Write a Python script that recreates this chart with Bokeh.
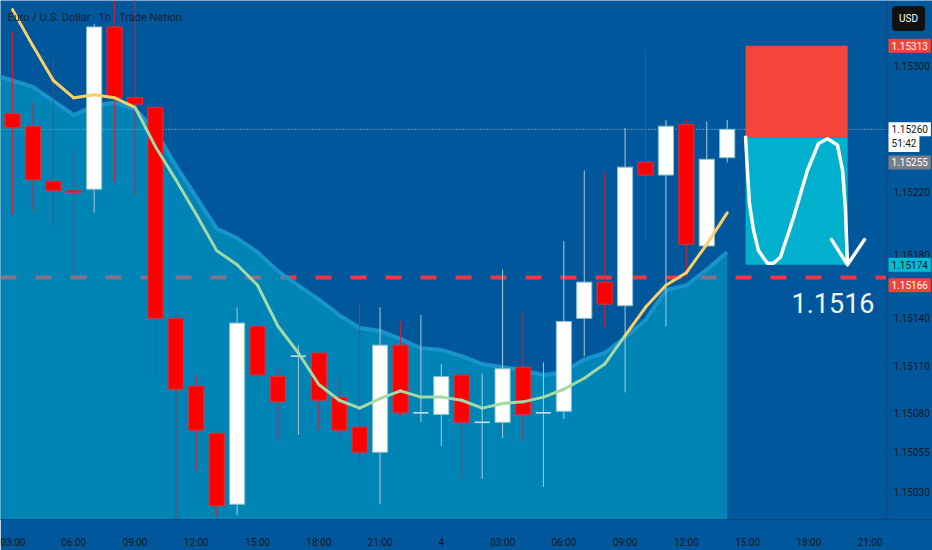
from bokeh.plotting import figure
from bokeh.models import Range1d, FixedTicker, PrintfTickFormatter, Label, ColumnDataSource, LinearAxis
from bokeh.embed import file_html
from bokeh.resources import INLINE

# ---------------- data ----------------
hours = list(range(3, 39))  # hourly candles, day 3 03:00 .. day 4 14:00
opens = [1.15270, 1.15262, 1.15227, 1.15221, 1.15222, 1.15325, 1.15280, 1.15274, 1.15140, 1.15097,
         1.15067, 1.15022, 1.15135, 1.15103, 1.15116, 1.15118, 1.15090, 1.15071, 1.15055, 1.15123,
         1.15080, 1.15079, 1.15104, 1.15074, 1.15074, 1.15109, 1.15080, 1.15081, 1.15140, 1.15163,
         1.15148, 1.15239, 1.15231, 1.15263, 1.15186, 1.15242]
closes = [1.15261, 1.15228, 1.15221, 1.15220, 1.15325, 1.15280, 1.15276, 1.15140, 1.15095, 1.15069,
          1.15021, 1.15137, 1.15104, 1.15087, 1.15116, 1.15088, 1.15069, 1.15055, 1.15123, 1.15080,
          1.15080, 1.15103, 1.15074, 1.15074, 1.15108, 1.15079, 1.15080, 1.15138, 1.15163, 1.15149,
          1.15236, 1.15231, 1.15262, 1.15187, 1.15241, 1.15260]
highs = [1.15322, 1.15277, 1.15304, 1.15247, 1.15327, 1.15350, 1.15350, 1.15275, 1.15143, 1.15104,
         1.15068, 1.15147, 1.15147, 1.15109, 1.15123, 1.15118, 1.15104, 1.15150, 1.15147, 1.15138,
         1.15142, 1.15111, 1.15104, 1.15105, 1.15171, 1.15144, 1.15112, 1.15189, 1.15234, 1.15233,
         1.15261, 1.15310, 1.15266, 1.15266, 1.15265, 1.15266]
lows = [1.15206, 1.15209, 1.15199, 1.15168, 1.15207, 1.15227, 1.15218, 1.15103, 1.15010, 1.15043,
        1.15014, 1.15015, 1.15095, 1.15062, 1.15066, 1.15069, 1.15064, 1.15048, 1.15022, 1.15078,
        1.15074, 1.15059, 1.15038, 1.15038, 1.15064, 1.15062, 1.15033, 1.15076, 1.15116, 1.15134,
        1.15093, 1.15189, 1.15135, 1.15166, 1.15186, 1.15239]
fast_ema = [1.15336, 1.15313, 1.15291, 1.15280, 1.15282, 1.15280, 1.15274, 1.15249, 1.15228, 1.15206,
            1.15183, 1.15174, 1.15161, 1.15135, 1.15118, 1.15098, 1.15088, 1.15083, 1.15089, 1.15094,
            1.15090, 1.15090, 1.15088, 1.15083, 1.15086, 1.15087, 1.15090, 1.15095, 1.15102, 1.15111,
            1.15129, 1.15147, 1.15161, 1.15169, 1.15187, 1.15207]
slow_hours = [2] + hours
slow_ema = [1.15295, 1.15291, 1.15287, 1.15278, 1.15269, 1.15275, 1.15277, 1.15273, 1.15259, 1.15237,
            1.15217, 1.15197, 1.15191, 1.15182, 1.15170, 1.15161, 1.15152, 1.15142, 1.15134, 1.15132,
            1.15127, 1.15121, 1.15120, 1.15116, 1.15111, 1.15109, 1.15107, 1.15104, 1.15106, 1.15114,
            1.15118, 1.15128, 1.15139, 1.15158, 1.15161, 1.15171, 1.15182]

x_ticks = [3, 6, 9, 12, 15, 18, 21, 24, 27, 30, 33, 36, 39, 42, 45]
x_tick_labels = ["03:00", "06:00", "09:00", "12:00", "15:00", "18:00", "21:00", "4",
                 "03:00", "06:00", "09:00", "12:00", "15:00", "18:00", "21:00"]
y_ticks = [1.15030, 1.15055, 1.15080, 1.15110, 1.15140, 1.15180, 1.15220, 1.15260, 1.15300]

support_level = 1.15166
last_price = 1.15260
pos_start, pos_end = 38.9, 43.9
pos_stop, pos_entry, pos_target = 1.15313, 1.15255, 1.15174

arrow_x = [38.90, 38.99, 39.09, 39.29, 39.53, 39.97, 40.27, 40.61, 41.25, 41.93, 42.47, 42.91,
           43.40, 43.65, 43.79, 43.89]
arrow_y = [1.15255, 1.15234, 1.15213, 1.15196, 1.15183, 1.15175, 1.15175, 1.15179, 1.15204, 1.15234,
           1.15251, 1.15254, 1.15250, 1.15234, 1.15209, 1.15175]
head_x = [43.11, 43.89, 44.72]
head_y = [1.15190, 1.15174, 1.15190]

# ---------------- style ----------------
BG = "#01579b"
FONT = "Roboto, sans-serif"
AX = "#131722"
UP_COL, DN_COL = "#ffffff", "#ff0000"

X0, X1 = 2.4123, 48.054        # whole chart width incl. price-scale strip
SCALE_X = 45.80                # where the price scale begins
Y0, Y1 = 1.150123, 1.153418

p = figure(width=932, height=550, x_range=Range1d(X0, X1), y_range=Range1d(Y0, Y1),
           output_backend="svg", toolbar_location=None, y_axis_location=None,
           min_border_left=0, min_border_top=0, min_border_right=0, min_border_bottom=30,
           background_fill_color=BG, border_fill_color=BG, outline_line_color=None)
p.grid.visible = False

yax = LinearAxis(fixed_location=SCALE_X)
p.add_layout(yax, "right")

p.xaxis.ticker = FixedTicker(ticks=x_ticks)
p.xaxis.major_label_overrides = {t: l for t, l in zip(x_ticks, x_tick_labels)}
yax.ticker = FixedTicker(ticks=y_ticks)
yax.formatter = PrintfTickFormatter(format="%.5f")
for ax in (p.xaxis[0], yax):
    ax.major_tick_line_color = None
    ax.minor_tick_line_color = None
    ax.major_tick_out = 0
    ax.major_tick_in = 0
    ax.axis_line_color = "#0a4a84"
    ax.major_label_text_font = FONT
    ax.major_label_text_font_size = "10px"
    ax.major_label_text_color = AX
p.xaxis.major_label_standoff = 17
yax.major_label_standoff = 7

# level lines (under the fill)
p.segment([X0], [support_level], [SCALE_X], [support_level], line_color="#f23645",
          line_width=4, line_dash="16 19")
p.segment([X0], [last_price], [SCALE_X], [last_price], line_color="#a9c1d6",
          line_width=1, line_dash="1 2")

# slow EMA area
p.varea(x=slow_hours, y1=slow_ema, y2=[1.1500] * len(slow_hours),
        fill_color="#00bcd4", fill_alpha=0.45)
p.line(slow_hours, slow_ema, line_color="#1a98cf", line_width=4, line_alpha=0.9)

# candles
up_i = [i for i in range(len(hours)) if closes[i] > opens[i]]
dn_i = [i for i in range(len(hours)) if closes[i] < opens[i]]
dj_i = [i for i in range(len(hours)) if closes[i] == opens[i]]

def src(idx):
    return ColumnDataSource(dict(
        x=[hours[i] for i in idx],
        top=[max(opens[i], closes[i]) for i in idx],
        bottom=[min(opens[i], closes[i]) for i in idx],
        high=[highs[i] for i in idx],
        low=[lows[i] for i in idx],
        x0=[hours[i] - 0.37 for i in idx],
        x1=[hours[i] + 0.37 for i in idx],
        mid=[opens[i] for i in idx]))

s_up, s_dn, s_dj = src(up_i), src(dn_i), src(dj_i)
p.segment("x", "low", "x", "high", source=s_dn, line_color="#c4283c", line_width=1)
p.segment("x", "low", "x", "high", source=s_up, line_color="#a9ccd6", line_width=1)
p.segment("x", "low", "x", "high", source=s_dj, line_color="#a9ccd6", line_width=1)
p.vbar("x", 0.74, "top", "bottom", source=s_dn, fill_color=DN_COL, line_color="#e0303a", line_width=1)
p.vbar("x", 0.74, "top", "bottom", source=s_up, fill_color=UP_COL, line_color="#86c2cc", line_width=1)
p.segment("x0", "mid", "x1", "mid", source=s_dj, line_color="#cfe6ec", line_width=1.5)

# fast EMA, yellow above slow EMA, green below
slow_al = slow_ema[1:]
seg_col = ["#fcd068" if fast_ema[i] + fast_ema[i + 1] >= slow_al[i] + slow_al[i + 1] else "#a3d9a5"
           for i in range(len(hours) - 1)]
p.segment(hours[:-1], fast_ema[:-1], hours[1:], fast_ema[1:], line_color=seg_col,
          line_width=3, line_cap="round")

# short position tool
p.quad(left=[pos_start], right=[pos_end], bottom=[pos_entry], top=[pos_stop],
       fill_color="#f4453b", line_color=None)
p.quad(left=[pos_start], right=[pos_end], bottom=[pos_target], top=[pos_entry],
       fill_color="#00b0cc", line_color=None)
p.line(arrow_x, arrow_y, line_color="white", line_width=3.5, line_join="round", line_cap="round")
p.line(head_x, head_y, line_color="white", line_width=3.5, line_join="round", line_cap="round")

# texts
p.add_layout(Label(x=2.755, y=1.15331, text="Euro / U.S. Dollar · 1h · Trade Nation",
                   text_font=FONT, text_font_size="11px", text_color="#142236",
                   text_baseline="middle"))
p.add_layout(Label(x=41.15, y=1.15150, text="1.1516", text_font=FONT, text_font_size="27px",
                   text_color="#f4f4f4", text_baseline="middle"))

def badge(y, text, bg, fg, x=45.90):
    p.add_layout(Label(x=x, y=y, text=text, text_font=FONT, text_font_size="10px",
                       text_color=fg, text_baseline="middle", text_align="left",
                       background_fill_color=bg, background_fill_alpha=1.0, padding=3))

badge(1.15313, "1.15313", "#f44336", "white")
badge(1.15260, "1.15260", "#ffffff", AX)
badge(1.15251, "51:42", "#ffffff", AX)
badge(1.15239, "1.15255", "#7b7e88", "white")
badge(1.15174, "1.15174", "#00bcd4", AX)
badge(1.15161, "1.15166", "#f44336", "white")
p.add_layout(Label(x=46.88, y=1.153304, text="USD", text_font=FONT, text_font_size="10px",
                   text_color="white", text_baseline="middle", text_align="center",
                   background_fill_color="#111111", background_fill_alpha=1.0,
                   padding=7, border_radius=4))

open("out.html", "w").write(file_html(p, INLINE))
